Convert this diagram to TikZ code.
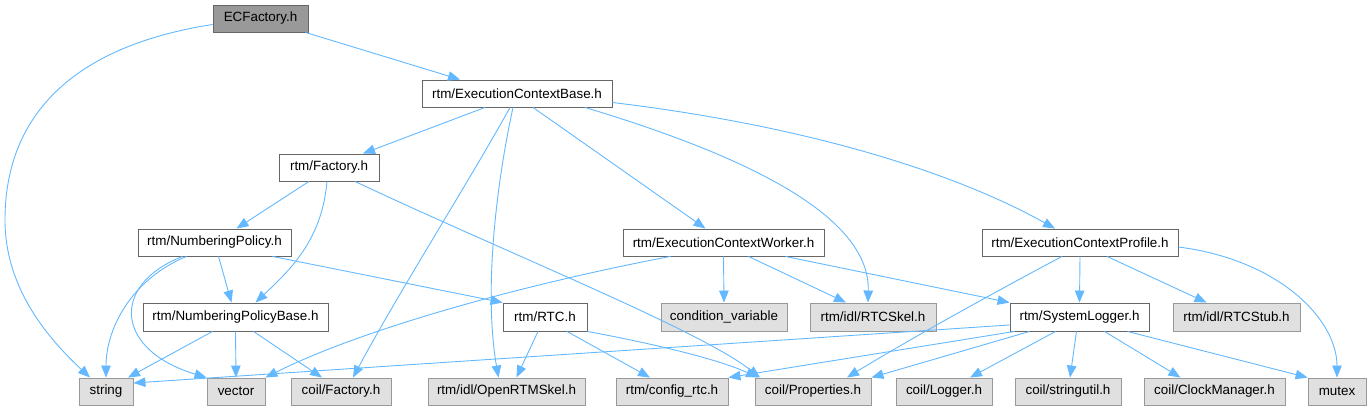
\documentclass[tikz,border=0pt]{standalone}
\usepackage{fontspec}
\setmainfont{Liberation Sans}
\usetikzlibrary{arrows.meta}
\definecolor{edgeblue}{HTML}{63B8FF}
\definecolor{boxborder}{HTML}{666666}
\definecolor{extborder}{HTML}{999999}
\definecolor{extfill}{HTML}{E0E0E0}
\definecolor{mainfill}{HTML}{999999}
\tikzset{
  base/.style={rectangle, inner sep=0pt, line width=0.9pt, font=\fontsize{13.4}{15}\selectfont},
  box/.style={base, draw=boxborder, fill=white},
  ext/.style={base, draw=extborder, fill=extfill},
  mainbox/.style={base, draw=boxborder, fill=mainfill},
  dep/.style={draw=edgeblue, line width=0.9pt, -{Triangle[length=12pt,width=9.5pt]}},
}
\begin{document}
\begin{tikzpicture}[x=1pt,y=-1pt]
\useasboundingbox (0,0) rectangle (1371,411);
% nodes
\node[mainbox, minimum width=95pt, minimum height=27pt] (ecf) at (260.5,18.5) {ECFactory.h};
\node[box, minimum width=190pt, minimum height=27pt] (ecb) at (517,93.5) {rtm/ExecutionContextBase.h};
\node[box, minimum width=100pt, minimum height=27pt] (fac) at (329,167.5) {rtm/Factory.h};
\node[box, minimum width=153pt, minimum height=27pt] (np) at (214.5,242.5) {rtm/NumberingPolicy.h};
\node[box, minimum width=201pt, minimum height=27pt] (ecw) at (723.5,242.5) {rtm/ExecutionContextWorker.h};
\node[box, minimum width=196pt, minimum height=27pt] (ecp) at (1080,242.5) {rtm/ExecutionContextProfile.h};
\node[box, minimum width=185pt, minimum height=28pt] (npb) at (235.5,317) {rtm/NumberingPolicyBase.h};
\node[box, minimum width=84pt, minimum height=28pt] (rtc) at (545,317) {rtm/RTC.h};
\node[ext, minimum width=126pt, minimum height=28pt] (cv) at (724,317) {condition\_variable};
\node[ext, minimum width=126pt, minimum height=28pt] (skel) at (873,317) {rtm/idl/RTCSkel.h};
\node[box, minimum width=139pt, minimum height=28pt] (slog) at (1079.5,317) {rtm/SystemLogger.h};
\node[ext, minimum width=127pt, minimum height=28pt] (stub) at (1236.5,317) {rtm/idl/RTCStub.h};
\node[ext, minimum width=54pt, minimum height=27pt] (str) at (106,391.5) {string};
\node[ext, minimum width=58pt, minimum height=27pt] (vec) at (236,391.5) {vector};
\node[ext, minimum width=100pt, minimum height=27pt] (cfac) at (341,391.5) {coil/Factory.h};
\node[ext, minimum width=157pt, minimum height=27pt] (ortm) at (506.5,391.5) {rtm/idl/OpenRTMSkel.h};
\node[ext, minimum width=112pt, minimum height=27pt] (cfg) at (672,391.5) {rtm/config\_rtc.h};
\node[ext, minimum width=116pt, minimum height=27pt] (prop) at (813,391.5) {coil/Properties.h};
\node[ext, minimum width=96pt, minimum height=27pt] (log) at (944,391.5) {coil/Logger.h};
\node[ext, minimum width=106pt, minimum height=27pt] (sutil) at (1068,391.5) {coil/stringutil.h};
\node[ext, minimum width=141pt, minimum height=27pt] (clk) at (1214.5,391.5) {coil/ClockManager.h};
\node[ext, minimum width=58pt, minimum height=27pt] (mutex) at (1337,391.5) {mutex};
% edges
\draw[dep] ([xshift=45pt]ecf.south) -- ([xshift=-57pt]ecb.north);
\draw[dep] ([yshift=-6pt]ecf.west) .. controls (80,45) and (5,110) .. (5,220) .. controls (5,290) and (50,340) .. ([xshift=-16pt]str.north);
\draw[dep] ([xshift=-32pt]ecb.south) -- ([xshift=34pt]fac.north);
\draw[dep] ([xshift=-7pt]ecb.south) .. controls (470,180) and (400,290) .. ([xshift=12pt]cfac.north);
\draw[dep] ([xshift=-4pt]ecb.south) .. controls (493,200) and (485,300) .. ([xshift=-8pt]ortm.north);
\draw[dep] ([xshift=16pt]ecb.south) -- ([xshift=-18pt]ecw.north);
\draw[dep] ([xshift=68pt]ecb.south) .. controls (760,160) and (870,220) .. ([xshift=-5pt]skel.north);
\draw[dep] ([yshift=-9pt]ecb.east) .. controls (800,125) and (950,170) .. ([xshift=-25pt]ecp.north);
\draw[dep] ([xshift=-20pt]fac.south) -- ([xshift=22pt]np.north);
\draw[dep] ([xshift=-2pt]fac.south) .. controls (322,240) and (290,270) .. ([xshift=20pt]npb.north);
\draw[dep] ([xshift=26pt]fac.south) .. controls (500,250) and (700,330) .. ([xshift=-53pt]prop.north);
\draw[dep] ([xshift=-28pt]np.south) .. controls (130,280) and (106,330) .. (str.north);
\draw[dep] ([xshift=-32pt]np.south) .. controls (110,285) and (115,350) .. (vec.north west);
\draw[dep] ([xshift=4pt]np.south) -- ([xshift=-4pt]npb.north);
\draw[dep] ([xshift=58pt]np.south) -- (rtc.north west);
\draw[dep] ([xshift=-23pt]npb.south) -- ([xshift=22pt]str.north);
\draw[dep] (npb.south) -- (vec.north);
\draw[dep] ([xshift=18pt]npb.south) -- ([xshift=-19pt]cfac.north);
\draw[dep] ([xshift=-7pt]rtc.south) -- ([xshift=10pt]ortm.north);
\draw[dep] ([xshift=22pt]rtc.south) -- ([xshift=-22pt]cfg.north);
\draw[dep] (rtc.south east) .. controls (660,345) and (720,360) .. ([xshift=-55pt]prop.north);
\draw[dep] ([xshift=-53pt]ecw.south) .. controls (520,285) and (360,330) .. (vec.north east);
\draw[dep] (ecw.south) -- (cv.north);
\draw[dep] ([xshift=25pt]ecw.south) -- ([xshift=-27pt]skel.north);
\draw[dep] ([xshift=62pt]ecw.south) -- (slog.north west);
\draw[dep] ([xshift=-18pt]ecp.south) .. controls (980,300) and (900,345) .. ([xshift=34pt]prop.north);
\draw[dep] (ecp.south) -- (slog.north);
\draw[dep] ([xshift=27pt]ecp.south) -- ([xshift=-30pt]stub.north);
\draw[dep] ([yshift=-4.5pt]ecp.east) .. controls (1280,260) and (1337,320) .. (mutex.north);
\draw[dep] ([yshift=-8pt]slog.west) -- ([yshift=8.5pt]str.east);
\draw[dep] ([xshift=5pt]slog.south west) -- (cfg.north east);
\draw[dep] ([xshift=20pt]slog.south west) -- (prop.north east);
\draw[dep] ([xshift=-24pt]slog.south) -- ([xshift=26pt]log.north);
\draw[dep] ([xshift=-3pt]slog.south) -- ([xshift=2pt]sutil.north);
\draw[dep] ([xshift=25pt]slog.south) -- ([xshift=-34pt]clk.north);
\draw[dep] ([xshift=48pt]slog.south) -- (mutex.north west);
\end{tikzpicture}
\end{document}
